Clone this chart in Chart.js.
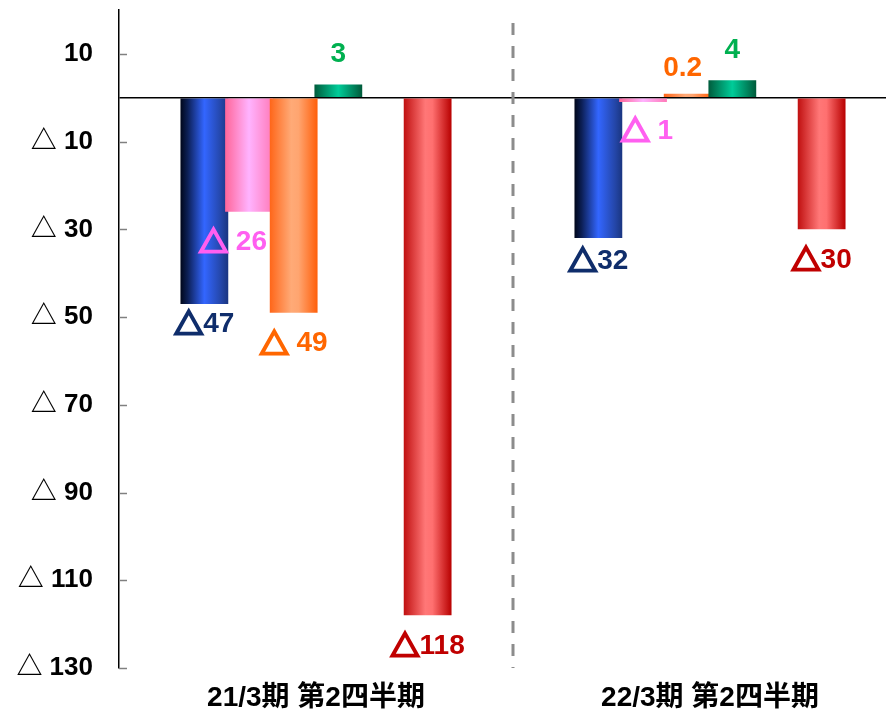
<!DOCTYPE html>
<html>
<head>
<meta charset="utf-8">
<script src="https://cdn.jsdelivr.net/npm/chart.js@4"></script>
<style>
  html, body { margin: 0; padding: 0; background: #fff; overflow: hidden; }
  #wrap { position: absolute; left: 0; top: 0; width: 907px; height: 711px; }
</style>
</head>
<body>
<div id="wrap"><canvas id="grafica"></canvas></div>
<script>
// ==============================
// Datos
// ==============================
const categories = ["21/3期 第2四半期", "22/3期 第2四半期"];
const navyValues = [-47, -32];
const pinkValues = [-26, -1];
const orangeValues = [-49, 0.2];
const greenValues = [3, 4];
const blankValues = [null, null];
const redValues = [-118, -30];
const yTickValues = [-130, -110, -90, -70, -50, -30, -10, 10];

// ==============================
// Estilos
// ==============================
const FONT = '"Liberation Sans", "Noto Sans CJK JP", sans-serif';
const TRI_FONT = 'bold 29px "Noto Sans CJK JP"';
const NUM_FONT = 'bold 28px "Liberation Sans"';

const gradients = {
  navy:   [[0, "#00061a"], [0.15, "#0c1f55"], [0.5, "#3366ff"], [0.85, "#2446a8"], [1, "#1a3580"]],
  pink:   [[0, "#ff6699"], [0.5, "#ffb3ff"], [1, "#ff7ab8"]],
  orange: [[0, "#ff6619"], [0.45, "#ffaa77"], [0.6, "#ffa570"], [1, "#ff5f0a"]],
  green:  [[0, "#005c3c"], [0.5, "#00cc99"], [1, "#005a3a"]],
  blank:  [[0, "#fff"], [1, "#fff"]],
  red:    [[0, "#c01010"], [0.45, "#ff7777"], [0.6, "#ff7070"], [1, "#b80000"]]
};

// como se escribe cada etiqueta y donde va respecto al extremo de la barra
const labelStyles = [
  { color: "#0f2d6b", space: "",  dx: [0, 0],   dy: [20, 23] },
  { color: "#ff5ff0", space: " ", dx: [-16, 4], dy: [30, 29] },
  { color: "#ff6600", space: " ", dx: [0, -5],  dy: [31, -25] },
  { color: "#00b050", space: "",  dx: [0, 0],   dy: [-30, -30] },
  null,
  { color: "#c00000", space: "",  dx: [0, 0],   dy: [31, 31] }
];

// dibuja "△" con trazo grueso y el numero en Liberation Sans, centrado en cx
function drawValue(ctx, v, space, cx, cy, color) {
  const parts = v < 0
    ? [["△", TRI_FONT, true], [space + Math.abs(v), NUM_FONT, false]]
    : [[String(v), NUM_FONT, false]];
  let total = 0;
  parts.forEach(p => { ctx.font = p[1]; p.push(ctx.measureText(p[0]).width); total += p[3]; });
  let x = cx - total / 2;
  ctx.fillStyle = color;
  ctx.strokeStyle = color;
  ctx.lineWidth = 2.6;
  ctx.lineJoin = "miter";
  parts.forEach(p => {
    ctx.font = p[1];
    ctx.fillText(p[0], x, cy);
    if (p[2]) ctx.strokeText(p[0], x, cy);
    x += p[3];
  });
}

// ==============================
// Plugins
// ==============================
const drawPlugin = {
  id: "cilindros",
  beforeDatasetsDraw(chart) {
    const ctx = chart.ctx;
    chart.data.datasets.forEach((ds, i) => {
      const stops = gradients[ds.gradient];
      chart.getDatasetMeta(i).data.forEach(el => {
        const { x, width } = el.getProps(["x", "width"], true);
        if (!isFinite(x) || !isFinite(width)) return;
        const g = ctx.createLinearGradient(x - width / 2, 0, x + width / 2, 0);
        stops.forEach(s => g.addColorStop(s[0], s[1]));
        el.options = Object.assign({}, el.options, { backgroundColor: g });
      });
    });
  },
  // las barras se pintan luego en orden, la siguiente encima de la anterior
  beforeDatasetDraw() {
    return false;
  },
  afterDatasetsDraw(chart) {
    const ctx = chart.ctx;
    const xs = chart.scales.x;
    const ys = chart.scales.y;
    const area = chart.chartArea;

    chart.data.datasets.forEach((ds, i) => chart.getDatasetMeta(i).controller.draw());

    // linea divisoria punteada
    const xMid = (xs.getPixelForValue(0) + xs.getPixelForValue(1)) / 2;
    ctx.save();
    ctx.strokeStyle = "#8c8c8c";
    ctx.lineWidth = 3;
    ctx.setLineDash([12, 11]);
    ctx.beginPath();
    ctx.moveTo(xMid, 23);
    ctx.lineTo(xMid, area.bottom);
    ctx.stroke();
    ctx.restore();

    // marcas internas del eje y
    ctx.save();
    ctx.strokeStyle = "#808080";
    ctx.lineWidth = 1.5;
    yTickValues.forEach(v => {
      const y = Math.round(ys.getPixelForValue(v)) + 0.5;
      ctx.beginPath();
      ctx.moveTo(area.left, y);
      ctx.lineTo(area.left + 8, y);
      ctx.stroke();
    });
    ctx.restore();

    // etiquetas de valores
    ctx.save();
    ctx.textAlign = "left";
    ctx.textBaseline = "middle";
    chart.data.datasets.forEach((ds, i) => {
      const st = labelStyles[i];
      if (!st) return;
      chart.getDatasetMeta(i).data.forEach((el, j) => {
        const v = ds.data[j];
        if (v === null) return;
        const { x, y } = el.getProps(["x", "y"], true);
        drawValue(ctx, v, st.space, x + st.dx[j], y + st.dy[j], st.color);
      });
    });
    ctx.restore();
  }
};

// ==============================
// Grafica
// ==============================
const series = [
  { data: navyValues, gradient: "navy" },
  { data: pinkValues, gradient: "pink" },
  { data: orangeValues, gradient: "orange", minBarLength: 4 },
  { data: greenValues, gradient: "green" },
  { data: blankValues, gradient: "blank" },
  { data: redValues, gradient: "red" }
];

new Chart(document.getElementById("grafica"), {
  type: "bar",
  data: {
    labels: categories,
    datasets: series.map(s => Object.assign({
      backgroundColor: "#999",
      borderWidth: 0,
      categoryPercentage: 0.68,
      barPercentage: 1.07
    }, s))
  },
  options: {
    responsive: true,
    maintainAspectRatio: false,
    animation: false,
    layout: { padding: { top: 10, left: 0, right: 0, bottom: 0 } },
    plugins: {
      legend: { display: false },
      tooltip: { enabled: false }
    },
    scales: {
      x: {
        grid: { display: false, drawTicks: false },
        border: { display: false },
        ticks: {
          color: "#000",
          padding: 13,
          maxRotation: 0,
          font: { family: FONT, size: 28, weight: "bold" }
        },
        afterFit: s => { s.height = 43; s.paddingLeft = 0; s.paddingRight = 0; }
      },
      y: {
        min: -130,
        max: 20,
        afterBuildTicks: s => {
          s.ticks = yTickValues.concat([0]).sort((a, b) => a - b).map(v => ({ value: v }));
        },
        afterFit: s => {
          s.width = 119;
          s.paddingTop = 0;
          s.paddingBottom = 0;
        },
        grid: {
          drawTicks: false,
          lineWidth: 1.5,
          color: c => (c.tick && c.tick.value === 0 ? "#000" : "rgba(0,0,0,0)")
        },
        border: { display: true, color: "#000", width: 1.5 },
        ticks: {
          color: "#000",
          padding: 26,
          font: { family: FONT, size: 26, weight: "bold" },
          callback: v => (v === 0 ? "" : v > 0 ? String(v) : "△ " + Math.abs(v))
        }
      }
    }
  },
  plugins: [drawPlugin]
});
</script>
</body>
</html>
